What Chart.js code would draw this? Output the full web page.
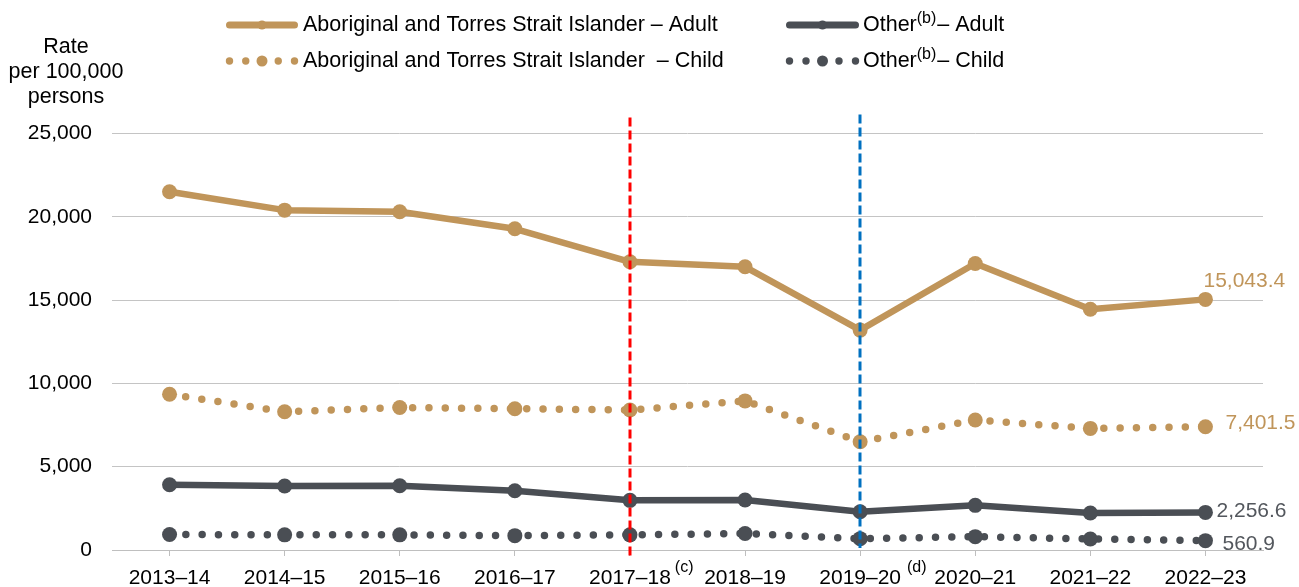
<!DOCTYPE html>
<html>
<head>
<meta charset="utf-8">
<title>Rate per 100,000 persons, 2013–14 to 2022–23</title>
<script src="https://cdn.jsdelivr.net/npm/chart.js@4/dist/chart.umd.min.js"></script>
<style>
  html, body { margin: 0; padding: 0; background: #ffffff; }
  canvas { display: block; }
</style>
</head>
<body>
<canvas id="chart" width="1299" height="587"></canvas>
<script>
// Financial years on the horizontal axis
const categories = ['2013–14', '2014–15', '2015–16', '2016–17', '2017–18',
                    '2018–19', '2019–20', '2020–21', '2021–22', '2022–23'];

// Rates per 100,000 persons
const indigenousAdult = [21500, 20400, 20300, 19280, 17300, 17000, 13200, 17200, 14450, 15043.4];
const indigenousChild = [9350, 8300, 8550, 8480, 8400, 8950, 6500, 7800, 7300, 7401.5];
const otherAdult      = [3920, 3840, 3860, 3560, 2980, 3000, 2300, 2680, 2220, 2256.6];
const otherChild      = [930, 910, 910, 860, 910, 990, 680, 800, 660, 560.9];

// Value axis ticks
const yTicks = [0, 5000, 10000, 15000, 20000, 25000];

// Footnote markers attached to some year labels
const tickNotes = { '2017–18': '(c)', '2019–20': '(d)' };

// Years marked with a vertical break line
const breakYears = ['2017–18', '2019–20'];

// Axis title lines
const axisTitle = ['Rate', 'per 100,000', 'persons'];

const GOLD = '#C0955A';
const GREY = '#4A4E54';
const FONT = "'Liberation Sans', Arial, Helvetica, sans-serif";

Chart.defaults.font.family = FONT;

// Legend entries: text pieces (some superscript)
const legendItems = [
  { parts: [{ t: 'Aboriginal and Torres Strait Islander – Adult' }], color: GOLD, dotted: false, col: 0, row: 0 },
  { parts: [{ t: 'Other' }, { t: '(b)', sup: true }, { t: '– Adult' }], color: GREY, dotted: false, col: 1, row: 0 },
  { parts: [{ t: 'Aboriginal and Torres Strait Islander  – Child' }], color: GOLD, dotted: true, col: 0, row: 1 },
  { parts: [{ t: 'Other' }, { t: '(b)', sup: true }, { t: '– Child' }], color: GREY, dotted: true, col: 1, row: 1 }
];

function fmt(v) {
  return v.toLocaleString('en-US', { minimumFractionDigits: 1, maximumFractionDigits: 1 });
}

// Extra drawing: break lines, end-value labels, footnote superscripts, legend and axis title
const decorPlugin = {
  id: 'decor',
  afterDatasetsDraw(chart) {
    const { ctx, chartArea, scales } = chart;
    const x = scales.x;

    // vertical dashed break lines
    const breaks = [
      { year: breakYears[0], color: '#FF0000', top: chartArea.top - 16, bottom: chartArea.bottom + 6 },
      { year: breakYears[1], color: '#0070C0', top: chartArea.top - 19, bottom: chartArea.bottom - 2 }
    ];
    ctx.save();
    ctx.lineWidth = 3;
    ctx.setLineDash([9, 4]);
    breaks.forEach(b => {
      const px = Math.round(x.getPixelForValue(categories.indexOf(b.year)));
      ctx.strokeStyle = b.color;
      ctx.beginPath();
      ctx.moveTo(px, b.top);
      ctx.lineTo(px, b.bottom);
      ctx.stroke();
    });
    ctx.restore();

    // value labels at the last point of each series
    const offsets = [
      { dx: -2, dy: -18, color: GOLD },
      { dx: 20, dy: -3.5, color: GOLD },
      { dx: 11, dy: -1, color: '#53575D' },
      { dx: 17, dy: 4, color: '#53575D' }
    ];
    ctx.save();
    ctx.font = '21px ' + FONT;
    ctx.textAlign = 'left';
    ctx.textBaseline = 'middle';
    chart.data.datasets.forEach((ds, i) => {
      const meta = chart.getDatasetMeta(i);
      const last = meta.data[meta.data.length - 1];
      const o = offsets[i];
      ctx.fillStyle = o.color;
      ctx.fillText(fmt(ds.data[ds.data.length - 1]), last.x + o.dx, last.y + o.dy);
    });
    ctx.restore();
  },
  afterDraw(chart) {
    const { ctx, scales } = chart;
    const x = scales.x;

    // superscript footnotes after year labels
    const noteGap = { '2017–18': 4, '2019–20': 6 };
    ctx.save();
    ctx.textBaseline = 'middle';
    ctx.textAlign = 'left';
    ctx.fillStyle = '#000000';
    Object.keys(tickNotes).forEach(year => {
      const px = x.getPixelForValue(categories.indexOf(year));
      ctx.font = '21px ' + FONT;
      const w = ctx.measureText(year).width;
      ctx.font = '16px ' + FONT;
      ctx.fillText(tickNotes[year], px + w / 2 + noteGap[year], x.bottom - 19);
    });
    ctx.restore();

    // axis title
    ctx.save();
    ctx.font = '21.5px ' + FONT;
    ctx.fillStyle = '#000000';
    ctx.textAlign = 'center';
    ctx.textBaseline = 'middle';
    axisTitle.forEach((line, i) => ctx.fillText(line, 66, 47 + i * 25));
    ctx.restore();

    // legend
    const cols = [{ icon: 226, iconEnd: 298, text: 303 }, { icon: 786, iconEnd: 859, text: 863 }];
    const rows = [25, 61];
    ctx.save();
    legendItems.forEach(item => {
      const c = cols[item.col];
      const y = rows[item.row];
      ctx.fillStyle = item.color;
      ctx.strokeStyle = item.color;
      if (!item.dotted) {
        ctx.lineWidth = 7;
        ctx.lineCap = 'round';
        ctx.beginPath();
        ctx.moveTo(c.icon + 3.5, y);
        ctx.lineTo(c.iconEnd - 3.5, y);
        ctx.stroke();
        ctx.beginPath();
        ctx.arc((c.icon + c.iconEnd) / 2, y, 4.5, 0, Math.PI * 2);
        ctx.fill();
      } else {
        const step = (c.iconEnd - c.icon - 7) / 4;
        for (let k = 0; k < 5; k++) {
          ctx.beginPath();
          ctx.arc(c.icon + 3.5 + k * step, y, k === 2 ? 5.5 : 3.7, 0, Math.PI * 2);
          ctx.fill();
        }
      }
      // text pieces
      ctx.fillStyle = '#000000';
      ctx.textAlign = 'left';
      ctx.textBaseline = 'middle';
      let tx = c.text;
      item.parts.forEach(p => {
        ctx.font = (p.sup ? '16px ' : '21.5px ') + FONT;
        ctx.fillText(p.t, tx, p.sup ? y - 6 : y);
        tx += ctx.measureText(p.t).width + (p.sup ? 1 : 0);
      });
    });
    ctx.restore();
  }
};

const solid = (label, data, color) => ({
  label, data,
  borderColor: color,
  backgroundColor: color,
  borderWidth: 6.5,
  borderCapStyle: 'round',
  borderJoinStyle: 'round',
  pointRadius: 7.5,
  pointHoverRadius: 7.5,
  pointBorderWidth: 0,
  pointBackgroundColor: color,
  tension: 0,
  fill: false
});

const dotted = (label, data, color) => ({
  label, data,
  borderColor: color,
  backgroundColor: color,
  borderWidth: 7.5,
  borderDash: [0, 16.3],
  borderCapStyle: 'round',
  pointRadius: 7.5,
  pointHoverRadius: 7.5,
  pointBorderWidth: 0,
  pointBackgroundColor: color,
  tension: 0,
  fill: false
});

new Chart(document.getElementById('chart'), {
  type: 'line',
  data: {
    labels: categories,
    datasets: [
      solid('Aboriginal and Torres Strait Islander – Adult', indigenousAdult, GOLD),
      dotted('Aboriginal and Torres Strait Islander – Child', indigenousChild, GOLD),
      solid('Other – Adult', otherAdult, GREY),
      dotted('Other – Child', otherChild, GREY)
    ]
  },
  options: {
    responsive: false,
    animation: false,
    devicePixelRatio: 1,
    layout: { padding: { top: 133.5, right: 36, left: 0, bottom: 0 } },
    plugins: {
      legend: { display: false },
      tooltip: { enabled: false },
      title: { display: false }
    },
    scales: {
      x: {
        type: 'category',
        offset: true,
        grid: {
          display: true,
          drawOnChartArea: false,
          drawTicks: true,
          tickLength: 6,
          color: '#BFBFBF',
          lineWidth: 1
        },
        border: { display: true, color: '#BFBFBF', width: 1 },
        ticks: {
          color: '#000000',
          font: { size: 21 },
          padding: 10,
          maxRotation: 0,
          autoSkip: false
        },
        afterFit(scale) { scale.height = 37; }
      },
      y: {
        min: yTicks[0],
        max: yTicks[yTicks.length - 1],
        afterBuildTicks(scale) { scale.ticks = yTicks.map(v => ({ value: v })); },
        grid: {
          color: '#C4C4C4',
          lineWidth: 1,
          drawTicks: false
        },
        border: { display: false },
        ticks: {
          color: '#000000',
          font: { size: 21 },
          padding: 20,
          callback: v => v.toLocaleString('en-US')
        },
        afterFit(scale) { scale.width = 112; }
      }
    }
  },
  plugins: [decorPlugin]
});
</script>
</body>
</html>
